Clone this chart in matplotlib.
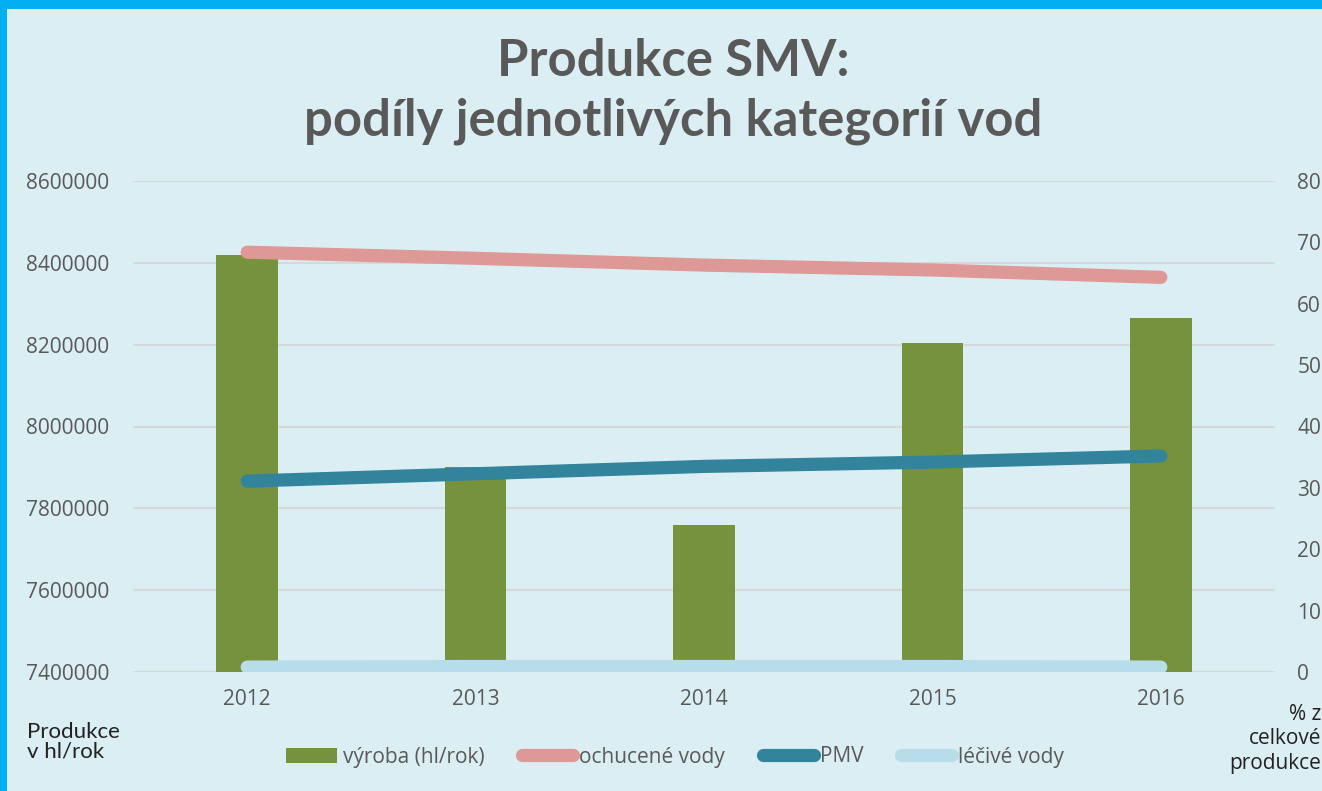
import matplotlib
matplotlib.use("Agg")
import matplotlib.pyplot as plt
from matplotlib.patches import Rectangle
from matplotlib.lines import Line2D
from matplotlib.patches import Patch

years = ["2012", "2013", "2014", "2015", "2016"]
vyroba = [8420000, 7900000, 7760000, 8205000, 8265000]
ochucene = [68.4, 67.4, 66.3, 65.5, 64.3]
pmv = [31.1, 32.3, 33.5, 34.2, 35.2]
lecive = [0.8, 0.9, 0.9, 0.9, 0.8]

left_ticks = [7400000, 7600000, 7800000, 8000000, 8200000, 8400000, 8600000]
right_ticks = [0, 10, 20, 30, 40, 50, 60, 70, 80]

bg = "#DBEEF4"
txt = "#595959"
c_bar = "#76923C"
c_och = "#DE9896"
c_pmv = "#31849B"
c_lec = "#B7DEE8"
font = "Open Sans"
fs = 15

fig = plt.figure(figsize=(13.22, 7.91), dpi=100)
fig.patch.set_facecolor(bg)
# blue border top and left
fig.patches.append(Rectangle((0, 1 - 9 / 791), 1, 9 / 791, transform=fig.transFigure,
                             facecolor="#00B0F0", edgecolor="none", zorder=10))
fig.patches.append(Rectangle((0, 0), 7 / 1322, 1, transform=fig.transFigure,
                             facecolor="#00B0F0", edgecolor="none", zorder=10))

ax = fig.add_axes([133 / 1322, 1 - 672 / 791, (1275 - 133) / 1322, (672 - 181) / 791])
ax.set_facecolor("none")
x = list(range(len(years)))
ax.bar(x, vyroba, width=0.27, color=c_bar, zorder=2, label="výroba (hl/rok)")
ax.set_ylim(7400000, 8600000)
ax.set_xlim(-0.5, 4.5)
ax.set_yticks(left_ticks)
ax.set_yticklabels([str(v) for v in left_ticks])
ax.set_xticks(x)
ax.set_xticklabels(years)
ax.grid(axis="y", color="#D6D9DC", linewidth=1.5, zorder=0)
ax.set_axisbelow(True)
for s in ax.spines.values():
    s.set_visible(False)
ax.tick_params(axis="both", length=0, labelsize=fs, labelcolor=txt)
ax.tick_params(axis="y", pad=17)
ax.tick_params(axis="x", pad=12)
for lab in ax.get_xticklabels() + ax.get_yticklabels():
    lab.set_fontfamily(font)

ax2 = ax.twinx()
ax2.set_facecolor("none")
ax2.set_ylim(0, 80)
ax2.set_yticks(right_ticks)
ax2.set_yticklabels([str(v) for v in right_ticks])
for s in ax2.spines.values():
    s.set_visible(False)
ax2.tick_params(axis="y", length=0, labelsize=fs, labelcolor=txt, pad=16)
for lab in ax2.get_yticklabels():
    lab.set_fontfamily(font)
lw = 9.5
ax2.plot(x, ochucene, color=c_och, lw=lw, solid_capstyle="round", zorder=3)
ax2.plot(x, pmv, color=c_pmv, lw=lw, solid_capstyle="round", zorder=3)
ax2.plot(x, lecive, color=c_lec, lw=lw, solid_capstyle="round", zorder=3)

fig.text(673 / 1322, 1 - 62 / 791, "Produkce SMV:", ha="center", va="center",
         fontsize=36.5, fontweight="bold", color=txt, family="Lato")
fig.text(673 / 1322, 1 - 121 / 791, "podíly jednotlivých kategorií vod", ha="center", va="center",
         fontsize=36.5, fontweight="bold", color=txt, family="Lato")

fig.text(27 / 1322, 1 - 742 / 791, "Produkce\nv hl/rok", ha="left", va="center",
         fontsize=16, color="#222222", family="Lato", linespacing=1.0)
fig.text(1321 / 1322, 1 - 739 / 791, "% z\ncelkové\nprodukce", ha="right", va="center",
         fontsize=15, color="#222222", family=font, linespacing=1.2)

handles = [
    Patch(facecolor=c_bar, edgecolor="none"),
    Line2D([0], [0], color=c_och, lw=lw, solid_capstyle="round"),
    Line2D([0], [0], color=c_pmv, lw=lw, solid_capstyle="round"),
    Line2D([0], [0], color=c_lec, lw=lw, solid_capstyle="round"),
]
labels = ["výroba (hl/rok)", "ochucené vody", "PMV", "léčivé vody"]
leg = fig.legend(handles, labels, loc="center", bbox_to_anchor=(675 / 1322, 1 - 757 / 791),
                 ncol=4, frameon=False, handlelength=2.45, handleheight=0.7,
                 handletextpad=0.3, columnspacing=1.8,
                 prop={"family": font, "size": fs})
for t in leg.get_texts():
    t.set_color(txt)

fig.savefig("out.png", dpi=100, facecolor=bg)
